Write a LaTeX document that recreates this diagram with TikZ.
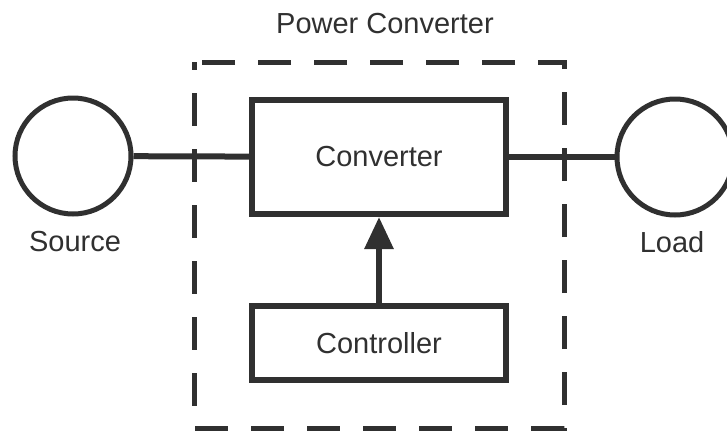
\documentclass[tikz,border=0pt]{standalone}
\usepackage{fontspec}
\setmainfont{Liberation Sans}
\usetikzlibrary{arrows.meta,positioning}
\definecolor{ink}{HTML}{303030}

\begin{document}
\begin{tikzpicture}[x=1pt,y=-1pt,
    every node/.style={font=\fontsize{29}{32}\selectfont, text=ink},
    blk/.style={draw=ink, line width=6pt, rectangle, minimum width=254pt},
    port/.style={draw=ink, line width=5pt, circle, minimum size=116pt, inner sep=0pt},
    wire/.style={draw=ink, line width=6pt}]
    \useasboundingbox (0,0) rectangle (727,434);
    % outer dashed frame
    \draw[ink, line width=5pt, dash pattern=on 33pt off 23pt, dash phase=25pt] (194,62) rectangle (564,428);
    \node at (385,24) (title) {Power Converter};
    \node[port] (src) at (73,156) {};
    \node[port] (load) at (675,157) {};
    \node at (75,242) (srclbl) {Source};
    \node at (672,242) (loadlbl) {Load};
    \node[blk, minimum height=114pt] (conv) at (379,157) {Converter};
    \node[blk, minimum height=74pt] (ctrl) at (379,343) {Controller};
    \draw[wire] (src) -- (conv);
    \draw[wire] (conv) -- (load);
    \draw[wire, -{Triangle[width=28pt,length=32pt]}] (ctrl) -- (conv);
\end{tikzpicture}
\end{document}
